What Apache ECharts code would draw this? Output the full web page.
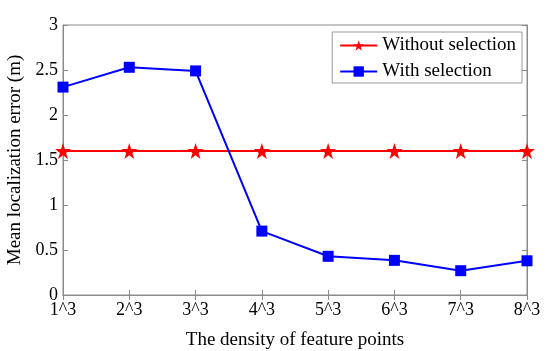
<!DOCTYPE html>
<html><head><meta charset="utf-8">
<script src="https://cdn.jsdelivr.net/npm/echarts@6/dist/echarts.min.js"></script>
<style>html,body{margin:0;padding:0;background:#fff}#c{width:550px;height:351px}</style>
</head><body><div id="c"></div>
<script>
const categories = ['1^3','2^3','3^3','4^3','5^3','6^3','7^3','8^3'];
const withoutSelection = [1.6,1.6,1.6,1.6,1.6,1.6,1.6,1.6];
const withSelection = [2.31,2.53,2.49,0.71,0.43,0.385,0.27,0.38];
const yTicks = [0,0.5,1,1.5,2,2.5,3];

const star = 'path://M50,0 L61.8,35.5 L100,35.5 L69.1,57.4 L80.9,93 L50,71 L19.1,93 L30.9,57.4 L0,35.5 L38.2,35.5 Z';
const font = 'Liberation Serif';
const axisCol = '#8a8a8a';
const chart = echarts.init(document.getElementById('c'));
chart.setOption({
  animation:false,
  textStyle:{fontFamily:font},
  grid:{left:63,right:23,top:25,bottom:56,show:true,borderColor:axisCol,borderWidth:1,backgroundColor:'#fff',outerBoundsMode:'none',containLabel:false},
  legend:{
    right:28, top:32, orient:'vertical', itemGap:7, itemWidth:37, itemHeight:13,
    borderColor:'#999', borderWidth:1, padding:[4,6,2,7], backgroundColor:'#fff',
    textStyle:{fontFamily:font,fontSize:19,color:'#000'},
    data:['Without selection','With selection']
  },
  xAxis:[{
    type:'category', data:categories, boundaryGap:false,
    axisLine:{lineStyle:{color:axisCol}},
    axisTick:{inside:true,length:5,lineStyle:{color:axisCol},alignWithLabel:true},
    axisLabel:{color:'#000',fontSize:18,fontFamily:font,margin:6,interval:0},
    name:'The density of feature points', nameLocation:'middle', nameGap:36,
    nameTextStyle:{color:'#000',fontSize:19,fontFamily:font},
    splitLine:{show:false}
  },{
    type:'category', data:categories, boundaryGap:false, position:'top',
    axisLine:{lineStyle:{color:axisCol}},
    axisTick:{inside:true,length:5,lineStyle:{color:axisCol}},
    axisLabel:{show:false}
  }],
  yAxis:[{
    type:'value', min:0, max:3, interval:0.5,
    axisLine:{show:true,lineStyle:{color:axisCol}},
    axisTick:{show:true,inside:true,length:5,lineStyle:{color:axisCol}},
    axisLabel:{color:'#000',fontSize:18,fontFamily:font,margin:5,formatter:v=>String(v)},
    splitLine:{show:false},
    name:'Mean localization error (m)', nameLocation:'middle', nameGap:31,
    nameTextStyle:{color:'#000',fontSize:19,fontFamily:font}
  },{
    type:'value', min:0, max:3, interval:0.5, position:'right',
    axisLine:{show:true,lineStyle:{color:axisCol}},
    axisTick:{show:true,inside:true,length:5,lineStyle:{color:axisCol}},
    axisLabel:{show:false}, splitLine:{show:false}
  }],
  series:[{
    name:'Without selection', type:'line', data:withoutSelection,
    symbol:star, symbolSize:16, showAllSymbol:true,
    lineStyle:{color:'#ff0000',width:2}, itemStyle:{color:'#ff0000'}
  },{
    name:'With selection', type:'line', data:withSelection,
    symbol:'rect', symbolSize:11, showAllSymbol:true,
    lineStyle:{color:'#0000ff',width:2}, itemStyle:{color:'#0000ff'}
  }]
});
</script></body></html>
